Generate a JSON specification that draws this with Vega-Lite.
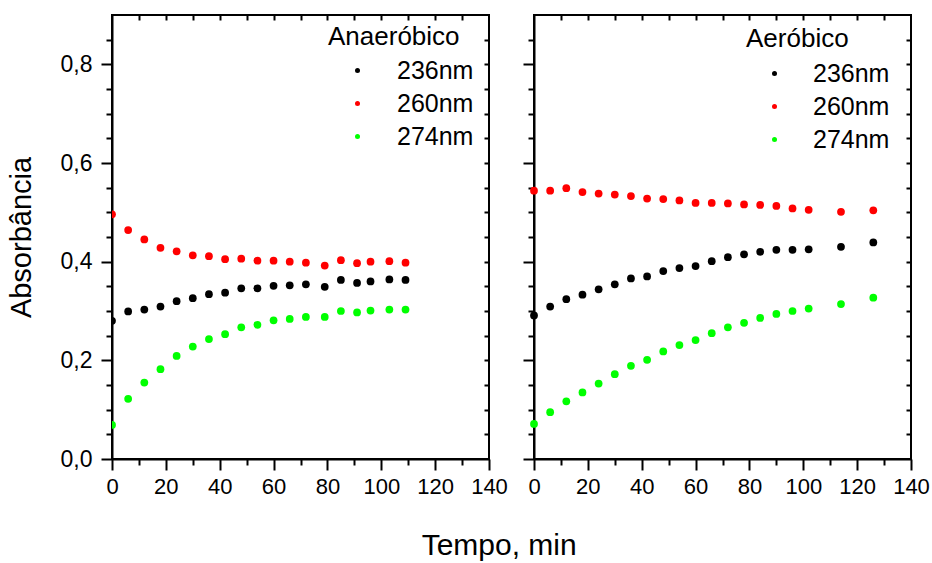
{
  "$schema": "https://vega.github.io/schema/vega-lite/v6.json",
  "padding": {"left": 6, "top": 13, "right": 2, "bottom": 2},
  "background": "white",
  "config": {
    "font": "Liberation Sans",
    "view": {"stroke": "black", "strokeWidth": 2},
    "axis": {"domainColor": "black", "domainWidth": 2, "tickColor": "black", "tickWidth": 2, "labelColor": "black", "labelFont": "Liberation Sans", "grid": false, "titleColor": "black", "titleFontWeight": "normal", "titleFont": "Liberation Sans"},
    "legend": {"titleFont": "Liberation Sans", "labelFont": "Liberation Sans"}
  },
  "title": {"text": "Tempo, min", "orient": "bottom", "anchor": "middle", "fontSize": 30, "fontWeight": "normal", "font": "Liberation Sans", "color": "black", "offset": 33, "dx": 31},
  "datasets": {
    "anaer": [
      {"t": 0, "nm": "236nm", "a": 0.280}, {"t": 6, "nm": "236nm", "a": 0.299}, {"t": 12, "nm": "236nm", "a": 0.303}, {"t": 18, "nm": "236nm", "a": 0.309}, {"t": 24, "nm": "236nm", "a": 0.320}, {"t": 30, "nm": "236nm", "a": 0.326}, {"t": 36, "nm": "236nm", "a": 0.334}, {"t": 42, "nm": "236nm", "a": 0.337}, {"t": 48, "nm": "236nm", "a": 0.346}, {"t": 54, "nm": "236nm", "a": 0.346}, {"t": 60, "nm": "236nm", "a": 0.351}, {"t": 66, "nm": "236nm", "a": 0.352}, {"t": 72, "nm": "236nm", "a": 0.354}, {"t": 79, "nm": "236nm", "a": 0.349}, {"t": 85, "nm": "236nm", "a": 0.363}, {"t": 91, "nm": "236nm", "a": 0.357}, {"t": 96, "nm": "236nm", "a": 0.360}, {"t": 103, "nm": "236nm", "a": 0.364}, {"t": 109, "nm": "236nm", "a": 0.363},
      {"t": 0, "nm": "260nm", "a": 0.496}, {"t": 6, "nm": "260nm", "a": 0.464}, {"t": 12, "nm": "260nm", "a": 0.445}, {"t": 18, "nm": "260nm", "a": 0.428}, {"t": 24, "nm": "260nm", "a": 0.421}, {"t": 30, "nm": "260nm", "a": 0.413}, {"t": 36, "nm": "260nm", "a": 0.411}, {"t": 42, "nm": "260nm", "a": 0.405}, {"t": 48, "nm": "260nm", "a": 0.406}, {"t": 54, "nm": "260nm", "a": 0.402}, {"t": 60, "nm": "260nm", "a": 0.402}, {"t": 66, "nm": "260nm", "a": 0.400}, {"t": 72, "nm": "260nm", "a": 0.398}, {"t": 79, "nm": "260nm", "a": 0.392}, {"t": 85, "nm": "260nm", "a": 0.403}, {"t": 91, "nm": "260nm", "a": 0.397}, {"t": 96, "nm": "260nm", "a": 0.400}, {"t": 103, "nm": "260nm", "a": 0.401}, {"t": 109, "nm": "260nm", "a": 0.398},
      {"t": 0, "nm": "274nm", "a": 0.069}, {"t": 6, "nm": "274nm", "a": 0.122}, {"t": 12, "nm": "274nm", "a": 0.155}, {"t": 18, "nm": "274nm", "a": 0.182}, {"t": 24, "nm": "274nm", "a": 0.209}, {"t": 30, "nm": "274nm", "a": 0.228}, {"t": 36, "nm": "274nm", "a": 0.243}, {"t": 42, "nm": "274nm", "a": 0.253}, {"t": 48, "nm": "274nm", "a": 0.267}, {"t": 54, "nm": "274nm", "a": 0.272}, {"t": 60, "nm": "274nm", "a": 0.281}, {"t": 66, "nm": "274nm", "a": 0.284}, {"t": 72, "nm": "274nm", "a": 0.288}, {"t": 79, "nm": "274nm", "a": 0.288}, {"t": 85, "nm": "274nm", "a": 0.300}, {"t": 91, "nm": "274nm", "a": 0.297}, {"t": 96, "nm": "274nm", "a": 0.301}, {"t": 103, "nm": "274nm", "a": 0.303}, {"t": 109, "nm": "274nm", "a": 0.303}
    ],
    "aer": [
      {"t": 0, "nm": "236nm", "a": 0.291}, {"t": 6, "nm": "236nm", "a": 0.309}, {"t": 12, "nm": "236nm", "a": 0.324}, {"t": 18, "nm": "236nm", "a": 0.333}, {"t": 24, "nm": "236nm", "a": 0.344}, {"t": 30, "nm": "236nm", "a": 0.354}, {"t": 36, "nm": "236nm", "a": 0.366}, {"t": 42, "nm": "236nm", "a": 0.370}, {"t": 48, "nm": "236nm", "a": 0.381}, {"t": 54, "nm": "236nm", "a": 0.387}, {"t": 60, "nm": "236nm", "a": 0.391}, {"t": 66, "nm": "236nm", "a": 0.401}, {"t": 72, "nm": "236nm", "a": 0.409}, {"t": 78, "nm": "236nm", "a": 0.415}, {"t": 84, "nm": "236nm", "a": 0.420}, {"t": 90, "nm": "236nm", "a": 0.424}, {"t": 96, "nm": "236nm", "a": 0.424}, {"t": 102, "nm": "236nm", "a": 0.425}, {"t": 114, "nm": "236nm", "a": 0.430}, {"t": 126, "nm": "236nm", "a": 0.439},
      {"t": 0, "nm": "260nm", "a": 0.544}, {"t": 6, "nm": "260nm", "a": 0.544}, {"t": 12, "nm": "260nm", "a": 0.549}, {"t": 18, "nm": "260nm", "a": 0.541}, {"t": 24, "nm": "260nm", "a": 0.538}, {"t": 30, "nm": "260nm", "a": 0.536}, {"t": 36, "nm": "260nm", "a": 0.533}, {"t": 42, "nm": "260nm", "a": 0.528}, {"t": 48, "nm": "260nm", "a": 0.527}, {"t": 54, "nm": "260nm", "a": 0.524}, {"t": 60, "nm": "260nm", "a": 0.519}, {"t": 66, "nm": "260nm", "a": 0.519}, {"t": 72, "nm": "260nm", "a": 0.518}, {"t": 78, "nm": "260nm", "a": 0.516}, {"t": 84, "nm": "260nm", "a": 0.515}, {"t": 90, "nm": "260nm", "a": 0.513}, {"t": 96, "nm": "260nm", "a": 0.508}, {"t": 102, "nm": "260nm", "a": 0.505}, {"t": 114, "nm": "260nm", "a": 0.501}, {"t": 126, "nm": "260nm", "a": 0.504},
      {"t": 0, "nm": "274nm", "a": 0.071}, {"t": 6, "nm": "274nm", "a": 0.095}, {"t": 12, "nm": "274nm", "a": 0.117}, {"t": 18, "nm": "274nm", "a": 0.135}, {"t": 24, "nm": "274nm", "a": 0.153}, {"t": 30, "nm": "274nm", "a": 0.172}, {"t": 36, "nm": "274nm", "a": 0.189}, {"t": 42, "nm": "274nm", "a": 0.201}, {"t": 48, "nm": "274nm", "a": 0.218}, {"t": 54, "nm": "274nm", "a": 0.231}, {"t": 60, "nm": "274nm", "a": 0.241}, {"t": 66, "nm": "274nm", "a": 0.255}, {"t": 72, "nm": "274nm", "a": 0.267}, {"t": 78, "nm": "274nm", "a": 0.276}, {"t": 84, "nm": "274nm", "a": 0.286}, {"t": 90, "nm": "274nm", "a": 0.294}, {"t": 96, "nm": "274nm", "a": 0.300}, {"t": 102, "nm": "274nm", "a": 0.305}, {"t": 114, "nm": "274nm", "a": 0.314}, {"t": 126, "nm": "274nm", "a": 0.327}
    ]
  },
  "spacing": 12,
  "resolve": {"scale": {"color": "independent"}, "legend": {"color": "independent"}},
  "hconcat": [
    {
      "width": 377, "height": 444,
      "data": {"name": "anaer"},
      "layer": [
        {
          "mark": {"type": "point", "filled": true, "size": 60, "opacity": 1, "clip": true},
          "encoding": {
            "x": {"field": "t", "type": "quantitative", "scale": {"domain": [0, 140], "nice": false, "zero": false},
                  "axis": {"orient": "bottom", "values": [0, 20, 40, 60, 80, 100, 120, 140], "tickSize": 11, "labelFontSize": 22, "labelPadding": 6, "title": null, "labelFlush": false, "labelOverlap": false}},
            "y": {"field": "a", "type": "quantitative", "scale": {"domain": [0, 0.9], "nice": false, "zero": false},
                  "axis": {"orient": "left", "values": [0, 0.2, 0.4, 0.6, 0.8], "tickSize": 11, "labelFontSize": 23, "labelPadding": 9, "labelExpr": "replace(format(datum.value, '.1f'), '.', ',')", "title": "Absorbância", "titleFontSize": 29, "titlePadding": 24, "labelFlush": false, "labelOverlap": false}},
            "color": {"field": "nm", "type": "nominal", "scale": {"domain": ["236nm", "260nm", "274nm"], "range": ["#000000", "#ff0000", "#00ff00"]},
                      "legend": {"title": "Anaeróbico", "orient": "none", "legendX": 216, "legendY": 9, "titleFontSize": 26, "titleFontWeight": "normal", "titleColor": "black", "titleAnchor": "start", "titlePadding": 8, "titleLimit": 300, "labelFontSize": 25, "labelColor": "black", "labelLimit": 200, "symbolType": "circle", "symbolSize": 25, "symbolStrokeWidth": 0, "symbolOffset": 17, "labelOffset": 27, "rowPadding": 7, "padding": 0}}
          }
        },
        {
          "mark": {"type": "point", "opacity": 0},
          "encoding": {
            "x": {"field": "t", "type": "quantitative", "scale": {"domain": [0, 140], "nice": false, "zero": false},
                  "axis": {"orient": "bottom", "values": [10, 30, 50, 70, 90, 110, 130], "tickSize": 6, "labels": false, "domain": false, "title": null}},
            "y": {"field": "a", "type": "quantitative", "scale": {"domain": [0, 0.9], "nice": false, "zero": false},
                  "axis": {"orient": "left", "values": [0.05, 0.1, 0.15, 0.25, 0.3, 0.35, 0.45, 0.5, 0.55, 0.65, 0.7, 0.75, 0.85], "tickSize": 6, "labels": false, "domain": false, "title": null}}
          }
        },
        {
          "mark": {"type": "point", "opacity": 0},
          "encoding": {
            "x": {"field": "t", "type": "quantitative", "scale": {"domain": [0, 140], "nice": false, "zero": false},
                  "axis": {"orient": "top", "offset": -5, "values": [10, 20, 30, 40, 50, 60, 70, 80, 90, 100, 110, 120, 130], "tickSize": 5, "labels": false, "domain": false, "title": null}},
            "y": {"field": "a", "type": "quantitative", "scale": {"domain": [0, 0.9], "nice": false, "zero": false},
                  "axis": {"orient": "right", "offset": -5, "values": [0.05, 0.1, 0.15, 0.2, 0.25, 0.3, 0.35, 0.4, 0.45, 0.5, 0.55, 0.6, 0.65, 0.7, 0.75, 0.8, 0.85], "tickSize": 5, "labels": false, "domain": false, "title": null}}
          }
        }
      ],
      "resolve": {"axis": {"x": "independent", "y": "independent"}}
    },
    {
      "width": 377, "height": 444,
      "data": {"name": "aer"},
      "layer": [
        {
          "mark": {"type": "point", "filled": true, "size": 60, "opacity": 1},
          "encoding": {
            "x": {"field": "t", "type": "quantitative", "scale": {"domain": [0, 140], "nice": false, "zero": false},
                  "axis": {"orient": "bottom", "values": [0, 20, 40, 60, 80, 100, 120, 140], "tickSize": 11, "labelFontSize": 22, "labelPadding": 6, "title": null, "labelFlush": false, "labelOverlap": false}},
            "y": {"field": "a", "type": "quantitative", "scale": {"domain": [0, 0.9], "nice": false, "zero": false},
                  "axis": {"orient": "left", "values": [0, 0.2, 0.4, 0.6, 0.8], "tickSize": 11, "labels": false, "title": null}},
            "color": {"field": "nm", "type": "nominal", "scale": {"domain": ["236nm", "260nm", "274nm"], "range": ["#000000", "#ff0000", "#00ff00"]},
                      "legend": {"title": "Aeróbico", "orient": "none", "legendX": 212, "legendY": 11, "titleFontSize": 26, "titleFontWeight": "normal", "titleColor": "black", "titleAnchor": "start", "titlePadding": 9, "titleLimit": 300, "labelFontSize": 25, "labelColor": "black", "labelLimit": 200, "symbolType": "circle", "symbolSize": 25, "symbolStrokeWidth": 0, "symbolOffset": 16, "labelOffset": 26, "rowPadding": 7, "padding": 0}}
          }
        },
        {
          "mark": {"type": "point", "opacity": 0},
          "encoding": {
            "x": {"field": "t", "type": "quantitative", "scale": {"domain": [0, 140], "nice": false, "zero": false},
                  "axis": {"orient": "bottom", "values": [10, 30, 50, 70, 90, 110, 130], "tickSize": 6, "labels": false, "domain": false, "title": null}},
            "y": {"field": "a", "type": "quantitative", "scale": {"domain": [0, 0.9], "nice": false, "zero": false},
                  "axis": {"orient": "left", "values": [0.05, 0.1, 0.15, 0.25, 0.3, 0.35, 0.45, 0.5, 0.55, 0.65, 0.7, 0.75, 0.85], "tickSize": 6, "labels": false, "domain": false, "title": null}}
          }
        },
        {
          "mark": {"type": "point", "opacity": 0},
          "encoding": {
            "x": {"field": "t", "type": "quantitative", "scale": {"domain": [0, 140], "nice": false, "zero": false},
                  "axis": {"orient": "top", "offset": -5, "values": [10, 20, 30, 40, 50, 60, 70, 80, 90, 100, 110, 120, 130], "tickSize": 5, "labels": false, "domain": false, "title": null}},
            "y": {"field": "a", "type": "quantitative", "scale": {"domain": [0, 0.9], "nice": false, "zero": false},
                  "axis": {"orient": "right", "offset": -5, "values": [0.05, 0.1, 0.15, 0.2, 0.25, 0.3, 0.35, 0.4, 0.45, 0.5, 0.55, 0.6, 0.65, 0.7, 0.75, 0.8, 0.85], "tickSize": 5, "labels": false, "domain": false, "title": null}}
          }
        }
      ],
      "resolve": {"axis": {"x": "independent", "y": "independent"}}
    }
  ]
}
